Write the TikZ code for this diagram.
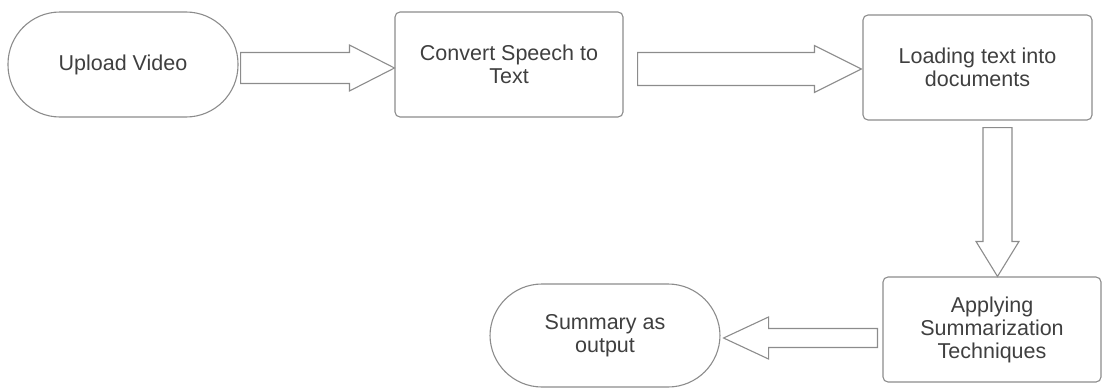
\documentclass[tikz,border=0pt]{standalone}
\usepackage{fontspec}
\setmainfont{Liberation Sans}
\usetikzlibrary{calc}
\definecolor{linegray}{HTML}{8C8C8C}
\definecolor{txtgray}{HTML}{3F3F3F}
\begin{document}
\begin{tikzpicture}[x=1pt,y=-1pt,
  every node/.style={font=\fontsize{21.5}{23}\selectfont, text=txtgray, align=center},
  term/.style={draw=linegray, line width=1.1pt, rounded corners=52pt, minimum width=230pt, minimum height=105pt},
  box/.style={draw=linegray, line width=1.1pt, rounded corners=5pt, minimum width=228pt, minimum height=105pt},
  fat/.style n args={3}{draw=linegray, line width=1.1pt, line join=miter, to path={
    ($(\tikztostart)!#1!90:(\tikztotarget)$)
    -- ($(\tikztotarget)!#3!(\tikztostart)!#1!90:(\tikztotarget)$)
    -- ($(\tikztotarget)!#3!(\tikztostart)!#2!90:(\tikztotarget)$)
    -- (\tikztotarget)
    -- ($(\tikztotarget)!#3!(\tikztostart)!#2!-90:(\tikztotarget)$)
    -- ($(\tikztotarget)!#3!(\tikztostart)!#1!-90:(\tikztotarget)$)
    -- ($(\tikztostart)!#1!-90:(\tikztotarget)$) -- cycle}}]
\useasboundingbox (0,0) rectangle (1102,388);

\node[term] (up) at (123,64.5) {Upload Video};
\node[box] (conv) at (509,64.5) {Convert Speech to\\Text};
\node[box, minimum width=229pt] (load) at (977.5,67.5) {Loading text into\\documents};
\node[box, minimum width=218pt] (apply) at (992,329.5) {Applying\\Summarization\\Techniques};
\node[term, minimum height=103pt] (summ) at (605,335.5) {Summary as\\output};

\draw[fat={15.5pt}{23pt}{45pt}] ([shift={(2,3.5)}]up.east) to ([shift={(0,3.5)}]conv.west);
\draw[fat={16.5pt}{23.5pt}{47pt}] ([shift={(14,4.5)}]conv.east) to ([shift={(-1,1.5)}]load.west);
\draw[fat={14.5pt}{21.5pt}{35pt}] ([shift={(20,7)}]load.south) to ([shift={(5.5,0)}]apply.north);
\draw[fat={9.5pt}{21pt}{45pt}] ([shift={(-5,8.5)}]apply.west) to ([shift={(3,2.5)}]summ.east);
\end{tikzpicture}
\end{document}
